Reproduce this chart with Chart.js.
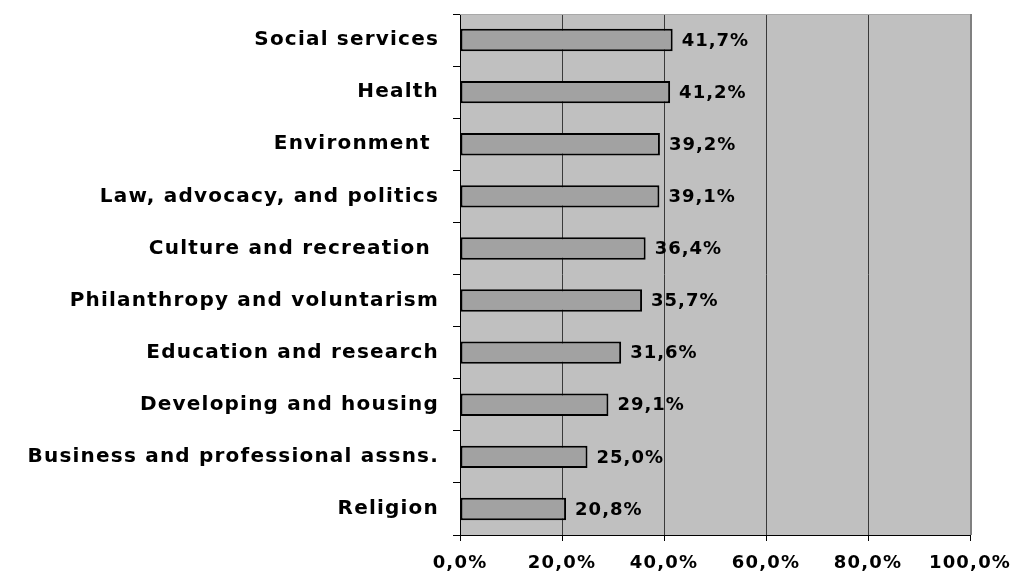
<!DOCTYPE html>
<html>
<head>
<meta charset="utf-8">
<script src="https://cdn.jsdelivr.net/npm/chart.js@4.4.0/dist/chart.umd.min.js"></script>
<style>
html,body{margin:0;padding:0;background:#fff;}
#wrap{width:1016px;height:572px;}
</style>
</head>
<body>
<div id="wrap"><canvas id="c" width="1016" height="572"></canvas></div>
<script>
const categories = [
  "Social services",
  "Health",
  "Environment ",
  "Law, advocacy, and politics",
  "Culture and recreation ",
  "Philanthropy and voluntarism",
  "Education and research",
  "Developing and housing",
  "Business and professional assns.",
  "Religion"
];
const values = [41.7, 41.2, 39.2, 39.1, 36.4, 35.7, 31.6, 29.1, 25.0, 20.8];
const xTickLabels = ["0,0%", "20,0%", "40,0%", "60,0%", "80,0%", "100,0%"];

const FONT = "'DejaVu Sans', 'Liberation Sans', Arial, sans-serif";
const fmt = v => v.toFixed(1).replace('.', ',') + '%';

const plotDecor = {
  id: 'plotDecor',
  beforeDraw(chart) {
    const {ctx, chartArea: a} = chart;
    ctx.letterSpacing = '1.2px';
    ctx.save();
    ctx.fillStyle = '#c0c0c0';
    ctx.fillRect(a.left, a.top, a.right - a.left, a.bottom - a.top);
    ctx.restore();
  },
  afterDatasetsDraw(chart) {
    const {ctx, chartArea: a} = chart;
    ctx.save();
    ctx.strokeStyle = '#a8a8a8';
    ctx.lineWidth = 1;
    ctx.beginPath();
    ctx.moveTo(a.left, a.top + 0.5);
    ctx.lineTo(a.right + 2, a.top + 0.5);
    ctx.stroke();
    ctx.strokeStyle = '#808080';
    ctx.lineWidth = 2;
    ctx.beginPath();
    ctx.moveTo(a.right + 1, a.top);
    ctx.lineTo(a.right + 1, a.bottom);
    ctx.stroke();
    ctx.letterSpacing = '1px';
    ctx.fillStyle = '#000';
    ctx.font = 'bold 18px ' + FONT;
    ctx.textAlign = 'left';
    ctx.textBaseline = 'middle';
    const meta = chart.getDatasetMeta(0);
    meta.data.forEach((bar, i) => {
      ctx.fillText(fmt(values[i]), bar.x + 9, bar.y + 1);
    });
    ctx.restore();
  }
};

new Chart(document.getElementById('c'), {
  type: 'bar',
  data: {
    labels: categories,
    datasets: [{
      data: values,
      backgroundColor: '#a2a2a2',
      borderColor: '#000',
      borderWidth: 2,
      borderSkipped: false,
      barPercentage: 0.43,
      categoryPercentage: 1.0
    }]
  },
  options: {
    indexAxis: 'y',
    responsive: false,
    devicePixelRatio: 1,
    animation: false,
    layout: {padding: {left: 0, top: 14, right: 46, bottom: 0}},
    plugins: {legend: {display: false}, tooltip: {enabled: false}},
    scales: {
      x: {
        min: 0, max: 100,
        afterFit(s) { s.height = 37; s.paddingLeft = 0; s.paddingRight = 0; },
        ticks: {
          stepSize: 20,
          color: '#000',
          padding: 12,
          font: {family: FONT, size: 18, weight: 'bold'},
          callback: (v, i) => xTickLabels[i]
        },
        grid: {color: '#3a3a3a', tickColor: '#000', tickLength: 6, lineWidth: 1},
        border: {display: true, color: '#000', width: 1}
      },
      y: {
        afterFit(s) { s.width = 460; s.paddingTop = 0; s.paddingBottom = 0; },
        ticks: {
          color: '#000',
          padding: 14,
          font: {family: FONT, size: 20, weight: 'bold'}
        },
        grid: {drawOnChartArea: false, drawTicks: true, tickLength: 7, color: '#000', tickColor: '#000', offset: true},
        border: {display: true, color: '#000', width: 1}
      }
    }
  },
  plugins: [plotDecor]
});
</script>
</body>
</html>
